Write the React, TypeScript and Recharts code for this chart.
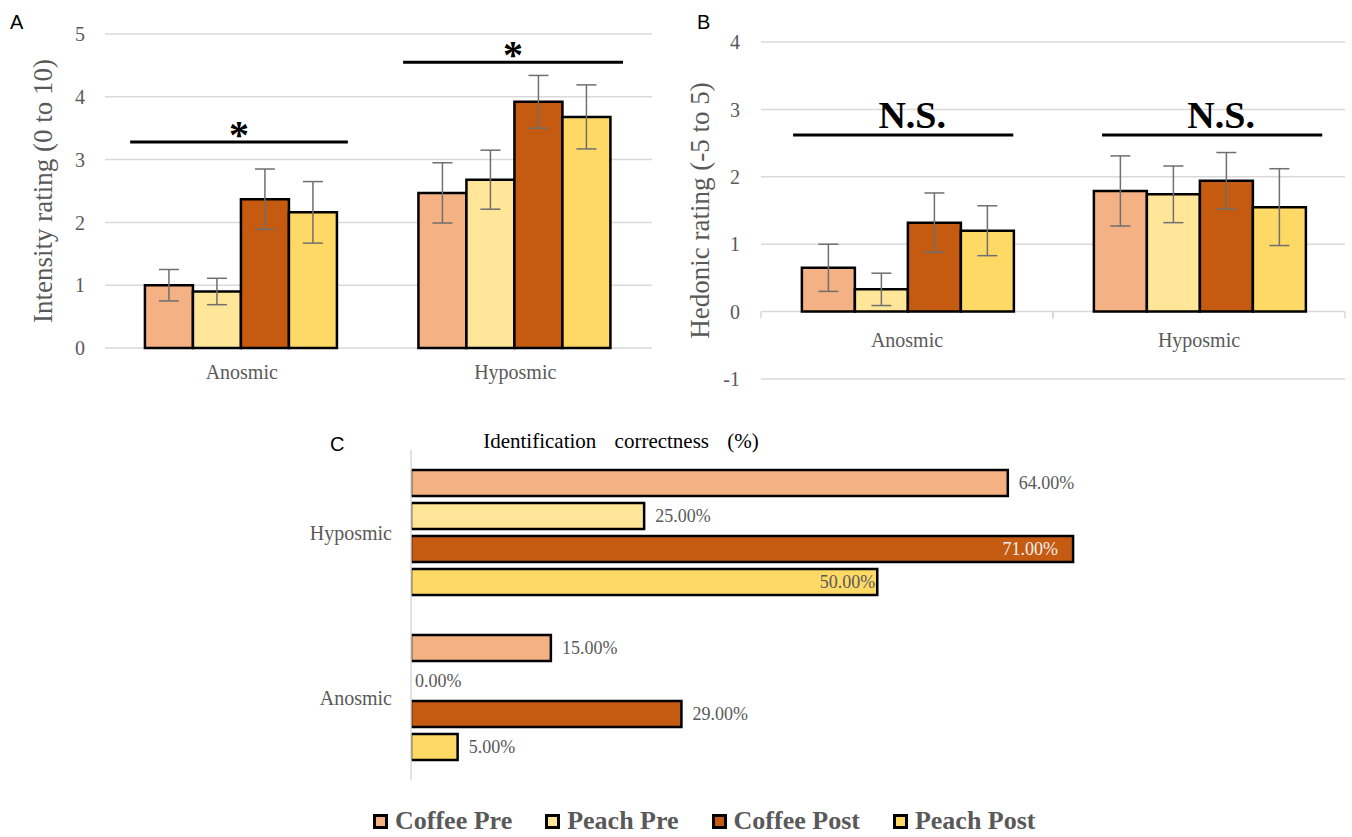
import {
    BarChart,
    Bar,
    CartesianGrid,
    XAxis,
    YAxis,
    ErrorBar,
    ReferenceLine,
    LabelList,
    Rectangle,
} from "recharts";

const serif = '"Liberation Serif", "Times New Roman", serif';
const sans = '"Liberation Sans", Arial, sans-serif';

// categories and series
const groupsAB = ["Anosmic", "Hyposmic"];
const groupsC = ["Hyposmic", "Anosmic"];
const seriesNames = ["Coffee Pre", "Peach Pre", "Coffee Post", "Peach Post"];
const seriesKeys = ["coffeePre", "peachPre", "coffeePost", "peachPost"];
const seriesColors = ["#F4B183", "#FFE699", "#C55A11", "#FFD966"];

// A: intensity rating, rows = groupsAB, cols = series
const intensityMeans = [
    [1.0, 0.9, 2.37, 2.16],
    [2.47, 2.68, 3.92, 3.68],
];
const intensityErrors = [
    [0.25, 0.21, 0.48, 0.49],
    [0.48, 0.47, 0.42, 0.51],
];
const intensityTicks = [0, 1, 2, 3, 4, 5];
// significance bars: x as a fraction (0..1) of the plot width
const intensitySig = [
    { x1: 0.046, x2: 0.444, y: 3.28, text: "*" },
    { x1: 0.545, x2: 0.947, y: 4.55, text: "*" },
];

// B: hedonic rating
const hedonicMeans = [
    [0.65, 0.33, 1.32, 1.2],
    [1.79, 1.74, 1.94, 1.55],
];
const hedonicErrors = [
    [0.35, 0.24, 0.44, 0.37],
    [0.52, 0.42, 0.42, 0.57],
];
const hedonicTicks = [-1, 0, 1, 2, 3, 4];
const hedonicSig = [
    { x1: 0.055, x2: 0.432, y: 2.62, text: "N.S." },
    { x1: 0.584, x2: 0.961, y: 2.62, text: "N.S." },
];

// C: identification correctness (%), rows = groupsC
const idCorrect = [
    [64, 25, 71, 50],
    [15, 0, 29, 5],
];
const insideLabels = ["Hyposmic:2", "Hyposmic:3"];

function buildRows(groups: string[], means: number[][], errors?: number[][]) {
    return groups.map((g, i) => {
        const row: Record<string, any> = { group: g };
        seriesKeys.forEach((k, j) => {
            row[k] = means[i][j];
            if (errors) row[k + "Err"] = errors[i][j];
        });
        return row;
    });
}

const intensityData = buildRows(groupsAB, intensityMeans, intensityErrors);
const hedonicData = buildRows(groupsAB, hedonicMeans, hedonicErrors);
const idData = buildRows(groupsC, idCorrect);

const gray = "#595959";
const gridColor = "#d9d9d9";

// panel B layout (needed to put the category labels under the zero line)
const B_TOP = 42;
const B_BOTTOM = 379;
const B_PLOT_W = 584;
const bZeroY = B_TOP + ((B_BOTTOM - B_TOP) * 4) / 5;

function HedonicTick(props: any) {
    const { x, payload } = props;
    const half = B_PLOT_W / 4;
    return (
        <g>
            <line x1={x - half} x2={x - half} y1={bZeroY} y2={bZeroY + 7} stroke={gridColor} strokeWidth={1.5} />
            <line x1={x + half} x2={x + half} y1={bZeroY} y2={bZeroY + 7} stroke={gridColor} strokeWidth={1.5} />
            <text x={x} y={bZeroY + 35} textAnchor="middle" fill={gray} fontSize={20} fontFamily={serif}>
                {payload.value}
            </text>
        </g>
    );
}

// zero bars keep their slot (so the label shows) but draw nothing
function idShape(key: string) {
    return (props: any) => {
        if (props.payload && props.payload[key] === 0) return <g />;
        return <Rectangle {...props} />;
    };
}

function idLabel(seriesIndex: number) {
    return (props: any) => {
        const vb = props.viewBox || {};
        const x = props.x ?? vb.x;
        const y = props.y ?? vb.y;
        const value = Number(props.value);
        const width = value === 0 ? 0 : props.width ?? vb.width ?? 0;
        const height = props.height ?? vb.height ?? 0;
        const group = groupsC[props.index];
        const inside = insideLabels.includes(group + ":" + seriesIndex);
        const text = value.toFixed(2) + "%";
        if (inside) {
            return (
                <text
                    x={x + width - (seriesIndex === 2 ? 15 : 2)}
                    y={y + height / 2}
                    dy="0.35em"
                    textAnchor="end"
                    fill={seriesIndex === 2 ? "#f2f2f2" : gray}
                    fontSize={18}
                    fontFamily={serif}
                >
                    {text}
                </text>
            );
        }
        return (
            <text
                x={x + width + (value === 0 ? 4 : 11)}
                y={y + height / 2}
                dy="0.35em"
                textAnchor="start"
                fill={gray}
                fontSize={18}
                fontFamily={serif}
            >
                {text}
            </text>
        );
    };
}

const tickStyle = { fill: gray, fontSize: 20, fontFamily: serif };

function PanelLetter({ x, y, text }: { x: number; y: number; text: string }) {
    return (
        <div style={{ position: "absolute", left: x, top: y, fontFamily: sans, fontSize: 20, lineHeight: "20px", color: "#000" }}>
            {text}
        </div>
    );
}

export default function App() {
    return (
        <div style={{ position: "absolute", left: 0, top: 0, width: 1352, height: 837, background: "#fff", overflow: "hidden" }}>
            <PanelLetter x={10} y={12} text="A" />
            <PanelLetter x={697} y={12} text="B" />
            <PanelLetter x={330} y={434} text="C" />

            {/* A */}
            <div style={{ position: "absolute", left: 0, top: 0 }}>
                <BarChart
                    width={680}
                    height={400}
                    data={intensityData}
                    barGap={0}
                    barCategoryGap="14.6%"
                    margin={{ top: 34, right: 28, bottom: 22, left: 0 }}
                >
                    <CartesianGrid vertical={false} stroke={gridColor} strokeWidth={1.5} />
                    <XAxis
                        dataKey="group"
                        height={30}
                        axisLine={false}
                        tickLine={false}
                        tickMargin={11}
                        tick={tickStyle}
                    />
                    <XAxis xAxisId="sig" type="number" domain={[0, 1]} hide />
                    <YAxis
                        width={105}
                        domain={[0, 5]}
                        ticks={intensityTicks}
                        axisLine={false}
                        tickLine={false}
                        tickMargin={14}
                        tick={tickStyle}
                        label={{
                            value: "Intensity rating (0 to 10)",
                            angle: -90,
                            position: "insideLeft",
                            offset: 42,
                            fill: gray,
                            fontSize: 27,
                            fontFamily: serif,
                            style: { textAnchor: "middle" },
                        }}
                    />
                    {seriesKeys.map((k, i) => (
                        <Bar
                            key={k}
                            dataKey={k}
                            name={seriesNames[i]}
                            fill={seriesColors[i]}
                            stroke="#000"
                            strokeWidth={2.5}
                            isAnimationActive={false}
                        >
                            <ErrorBar dataKey={k + "Err"} width={10} stroke="#6f6f6f" strokeWidth={1.5} direction="y" />
                        </Bar>
                    ))}
                    {intensitySig.map((s, i) => (
                        <ReferenceLine
                            key={i}
                            xAxisId="sig"
                            segment={[
                                { x: s.x1, y: s.y },
                                { x: s.x2, y: s.y },
                            ]}
                            stroke="#000"
                            strokeWidth={3}
                            label={{
                                value: s.text,
                                position: "top",
                                offset: -6,
                                fill: "#000",
                                fontSize: 40,
                                fontWeight: "bold",
                                fontFamily: serif,
                            }}
                        />
                    ))}
                </BarChart>
            </div>

            {/* B */}
            <div style={{ position: "absolute", left: 680, top: 0 }}>
                <BarChart
                    width={672}
                    height={400}
                    data={hedonicData}
                    barGap={0}
                    barCategoryGap="14%"
                    margin={{ top: B_TOP, right: 7, bottom: 1, left: 0 }}
                >
                    <CartesianGrid vertical={false} stroke={gridColor} strokeWidth={1.5} />
                    <XAxis dataKey="group" height={20} axisLine={false} tickLine={false} tick={<HedonicTick />} />
                    <XAxis xAxisId="sig" type="number" domain={[0, 1]} hide />
                    <YAxis
                        width={81}
                        domain={[-1, 4]}
                        ticks={hedonicTicks}
                        axisLine={false}
                        tickLine={false}
                        tickMargin={15}
                        tick={tickStyle}
                        label={{
                            value: "Hedonic rating (-5 to 5)",
                            angle: -90,
                            position: "insideLeft",
                            offset: 19,
                            fill: gray,
                            fontSize: 27,
                            fontFamily: serif,
                            style: { textAnchor: "middle" },
                        }}
                    />
                    {seriesKeys.map((k, i) => (
                        <Bar
                            key={k}
                            dataKey={k}
                            name={seriesNames[i]}
                            fill={seriesColors[i]}
                            stroke="#000"
                            strokeWidth={2.5}
                            isAnimationActive={false}
                        >
                            <ErrorBar dataKey={k + "Err"} width={10} stroke="#6f6f6f" strokeWidth={1.5} direction="y" />
                        </Bar>
                    ))}
                    {hedonicSig.map((s, i) => (
                        <ReferenceLine
                            key={i}
                            xAxisId="sig"
                            segment={[
                                { x: s.x1, y: s.y },
                                { x: s.x2, y: s.y },
                            ]}
                            stroke="#000"
                            strokeWidth={3}
                            label={{
                                value: s.text,
                                position: "top",
                                offset: 7,
                                dx: 9,
                                fill: "#000",
                                fontSize: 38,
                                fontWeight: "bold",
                                fontFamily: serif,
                            }}
                        />
                    ))}
                </BarChart>
            </div>

            {/* C */}
            <div
                style={{
                    position: "absolute",
                    left: 400,
                    top: 430,
                    width: 442,
                    textAlign: "center",
                    fontFamily: serif,
                    fontSize: 21,
                    lineHeight: "22px",
                    wordSpacing: 13,
                    color: "#000",
                }}
            >
                Identification correctness (%)
            </div>
            <div style={{ position: "absolute", left: 290, top: 420 }}>
                <BarChart
                    width={900}
                    height={370}
                    data={idData}
                    layout="vertical"
                    barGap={7}
                    barCategoryGap={20}
                    margin={{ top: 30, right: 33, bottom: 10, left: 0 }}
                >
                    <XAxis type="number" domain={[0, 80]} allowDataOverflow hide />
                    <YAxis
                        type="category"
                        dataKey="group"
                        width={121}
                        axisLine={{ stroke: gridColor, strokeWidth: 1.5 }}
                        tickLine={false}
                        tickMargin={13}
                        tick={tickStyle}
                    />
                    {seriesKeys.map((k, i) => (
                        <Bar
                            key={k}
                            dataKey={k}
                            name={seriesNames[i]}
                            fill={seriesColors[i]}
                            stroke="#000"
                            strokeWidth={2.5}
                            minPointSize={1}
                            shape={idShape(k)}
                            isAnimationActive={false}
                        >
                            <LabelList dataKey={k} content={idLabel(i)} />
                        </Bar>
                    ))}
                </BarChart>
            </div>

            {/* legend */}
            <div style={{ position: "absolute", left: 373, top: 808, display: "flex", alignItems: "center", gap: 33 }}>
                {seriesNames.map((n, i) => (
                    <div key={n} style={{ display: "flex", alignItems: "center" }}>
                        <span
                            style={{
                                display: "inline-block",
                                boxSizing: "border-box",
                                width: 15,
                                height: 15,
                                border: "3px solid #000",
                                background: seriesColors[i],
                                marginRight: 7,
                            }}
                        />
                        <span style={{ fontFamily: serif, fontWeight: "bold", fontSize: 26, lineHeight: "26px", color: gray }}>
                            {n}
                        </span>
                    </div>
                ))}
            </div>
        </div>
    );
}
